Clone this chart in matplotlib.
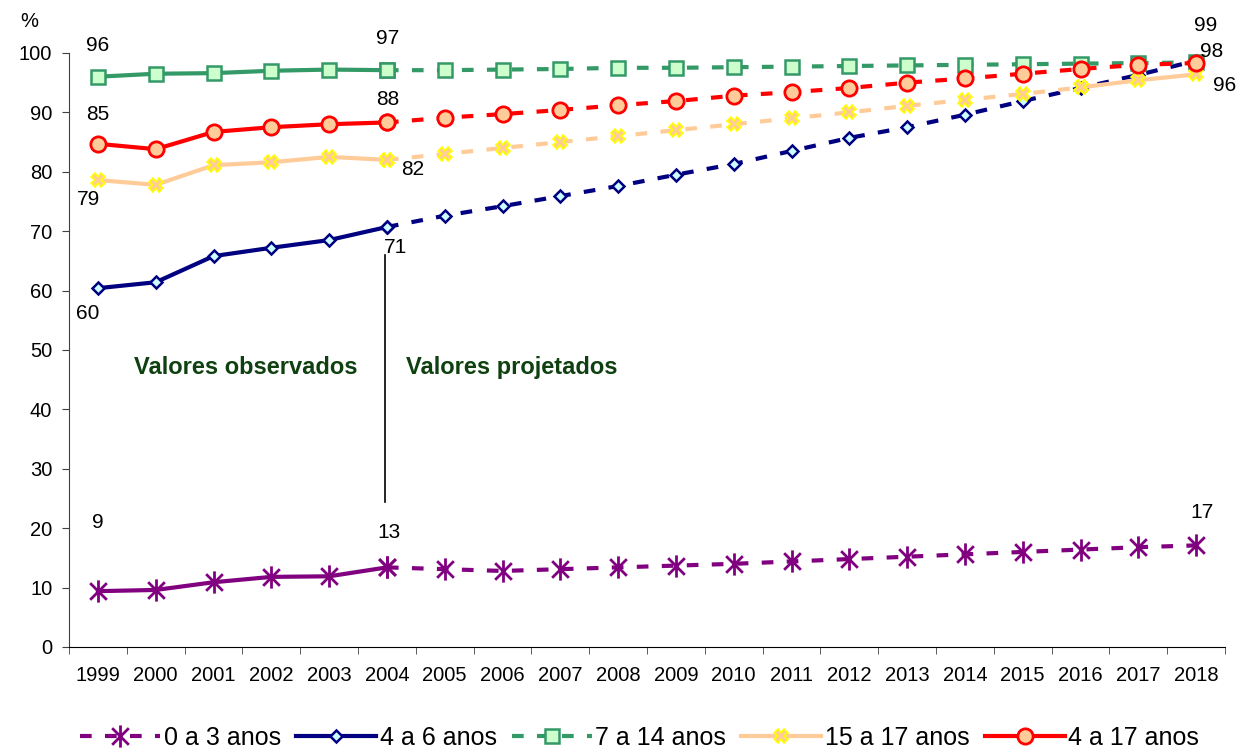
import matplotlib.pyplot as plt
import numpy as np
from matplotlib.path import Path

plt.rcParams['font.family'] = ['Liberation Sans', 'DejaVu Sans']

anos = ['1999', '2000', '2001', '2002', '2003', '2004', '2005', '2006', '2007', '2008',
        '2009', '2010', '2011', '2012', '2013', '2014', '2015', '2016', '2017', '2018']

s0_3 = [9.4, 9.6, 10.9, 11.8, 11.9, 13.4, 13.1, 12.8, 13.1, 13.4,
        13.7, 14.0, 14.4, 14.8, 15.2, 15.6, 16.0, 16.4, 16.8, 17.1]
s4_6 = [60.4, 61.4, 65.8, 67.2, 68.5, 70.7, 72.6, 74.2, 75.9, 77.6,
        79.5, 81.3, 83.5, 85.7, 87.5, 89.6, 91.9, 94.1, 96.3, 98.7]
s7_14 = [96.0, 96.5, 96.6, 97.0, 97.2, 97.1, 97.1, 97.2, 97.3, 97.5,
         97.5, 97.6, 97.7, 97.8, 97.9, 98.0, 98.1, 98.2, 98.3, 98.4]
s15_17 = [78.6, 77.8, 81.1, 81.6, 82.5, 82.0, 83.0, 84.0, 85.0, 86.0,
          87.0, 88.0, 89.0, 90.0, 91.1, 92.1, 93.1, 94.2, 95.4, 96.4]
s4_17 = [84.7, 83.8, 86.7, 87.5, 88.0, 88.3, 89.1, 89.7, 90.4, 91.2,
         91.9, 92.8, 93.4, 94.1, 95.0, 95.7, 96.5, 97.3, 98.0, 98.3]

x = np.arange(len(anos))
obs = 6  # 1999-2004 observados

# asterisco estilo Excel: traço vertical + X
star = Path([(0, -1), (0, 1), (-0.75, -0.75), (0.75, 0.75), (-0.75, 0.75), (0.75, -0.75)],
            [Path.MOVETO, Path.LINETO] * 3)

fig = plt.figure(figsize=(12.37, 7.51), dpi=100)
ax = fig.add_axes([0.0558, 0.1385, 0.9345, 0.791])

dash = (0, (2.8, 3.2))
series = [
    (s0_3, '#800080', dict(marker=star, markersize=16, markeredgewidth=2,
                            markerfacecolor='#800080', markeredgecolor='#800080'), '0 a 3 anos', True),
    (s4_6, '#000080', dict(marker='D', markersize=6.5, markeredgewidth=1.8,
                            markerfacecolor='#CCFFFF', markeredgecolor='#000080'), '4 a 6 anos', False),
    (s7_14, '#339966', dict(marker='s', markersize=10, markeredgewidth=1.8,
                             markerfacecolor='#CCFFCC', markeredgecolor='#339966'), '7 a 14 anos', True),
    (s15_17, '#FFCC99', dict(marker='X', markersize=10, markeredgewidth=1.2,
                              markerfacecolor='#FFCC99', markeredgecolor='#FFFF00'), '15 a 17 anos', False),
    (s4_17, '#FF0000', dict(marker='o', markersize=11, markeredgewidth=2,
                             markerfacecolor='#FFCC99', markeredgecolor='#FF0000'), '4 a 17 anos', False),
]

handles = []
for vals, cor, mk, nome, leg_dash in series:
    v = np.array(vals)
    ax.plot(x[:obs], v[:obs], color=cor, lw=3, zorder=3, **mk)
    if nome == '15 a 17 anos':
        ax.plot(x[obs - 1:18], v[obs - 1:18], color=cor, lw=3, ls=dash, zorder=3, **mk)
        ax.plot(x[17:], v[17:], color=cor, lw=3, zorder=3, **mk)
    else:
        ax.plot(x[obs - 1:], v[obs - 1:], color=cor, lw=3, ls=dash, zorder=3, **mk)
    h, = ax.plot([], [], color=cor, lw=3, ls=dash if leg_dash else '-', **mk)
    handles.append(h)

ax.set_xlim(-0.5, 19.5)
ax.set_ylim(0, 100)
ax.set_yticks(np.arange(0, 101, 10))
ax.set_xticks(x)
ax.set_xticklabels(anos)
ax.set_xticks(np.arange(-0.5, 20, 1), minor=True)
ax.tick_params(axis='x', which='major', length=0, labelsize=14.5, pad=14)
ax.tick_params(axis='x', which='minor', length=5, color='#404040')
ax.tick_params(axis='y', labelsize=14.5, length=5, pad=7, color='#404040')
for s in ['top', 'right']:
    ax.spines[s].set_visible(False)
ax.spines['left'].set_color('#404040')
ax.spines['bottom'].set_color('black')

# rótulos dos valores (posição em coordenadas dos dados)
rotulos = ['96', '85', '79', '60', '97', '88', '82', '71', '13', '9', '99', '98', '96', '17']
rot_x = [0, 0, -0.17, -0.17, 5.02, 5.02, 5.44, 5.14, 5.03, 0, 19.16, 19.27, 19.5, 19.11]
rot_y = [101.2, 89.6, 75.3, 56.1, 102.5, 92.1, 80.3, 67.2, 19.2, 20.9, 104.7, 100.2, 94.6, 22.6]
for t, xi, yi in zip(rotulos, rot_x, rot_y):
    ax.text(xi, yi, t, ha='center', va='center', fontsize=15, clip_on=False)

ax.plot([4.97, 4.97], [24.4, 66], color='black', lw=1.2)
ax.text(2.56, 47, 'Valores observados', color='#0F4010', fontsize=17, fontweight='bold',
        ha='center', va='center')
ax.text(5.33, 47, 'Valores projetados', color='#0F4010', fontsize=17, fontweight='bold',
        ha='left', va='center')

fig.text(0.016, 0.972, '%', fontsize=14.5, va='center')

fig.legend(handles=handles, labels=[s[3] for s in series], loc='center',
           bbox_to_anchor=(0.517, 0.017), ncol=5, frameon=False, fontsize=18,
           handlelength=3.2, handletextpad=0.15, columnspacing=0.6)

fig.savefig('out.png', dpi=100)
